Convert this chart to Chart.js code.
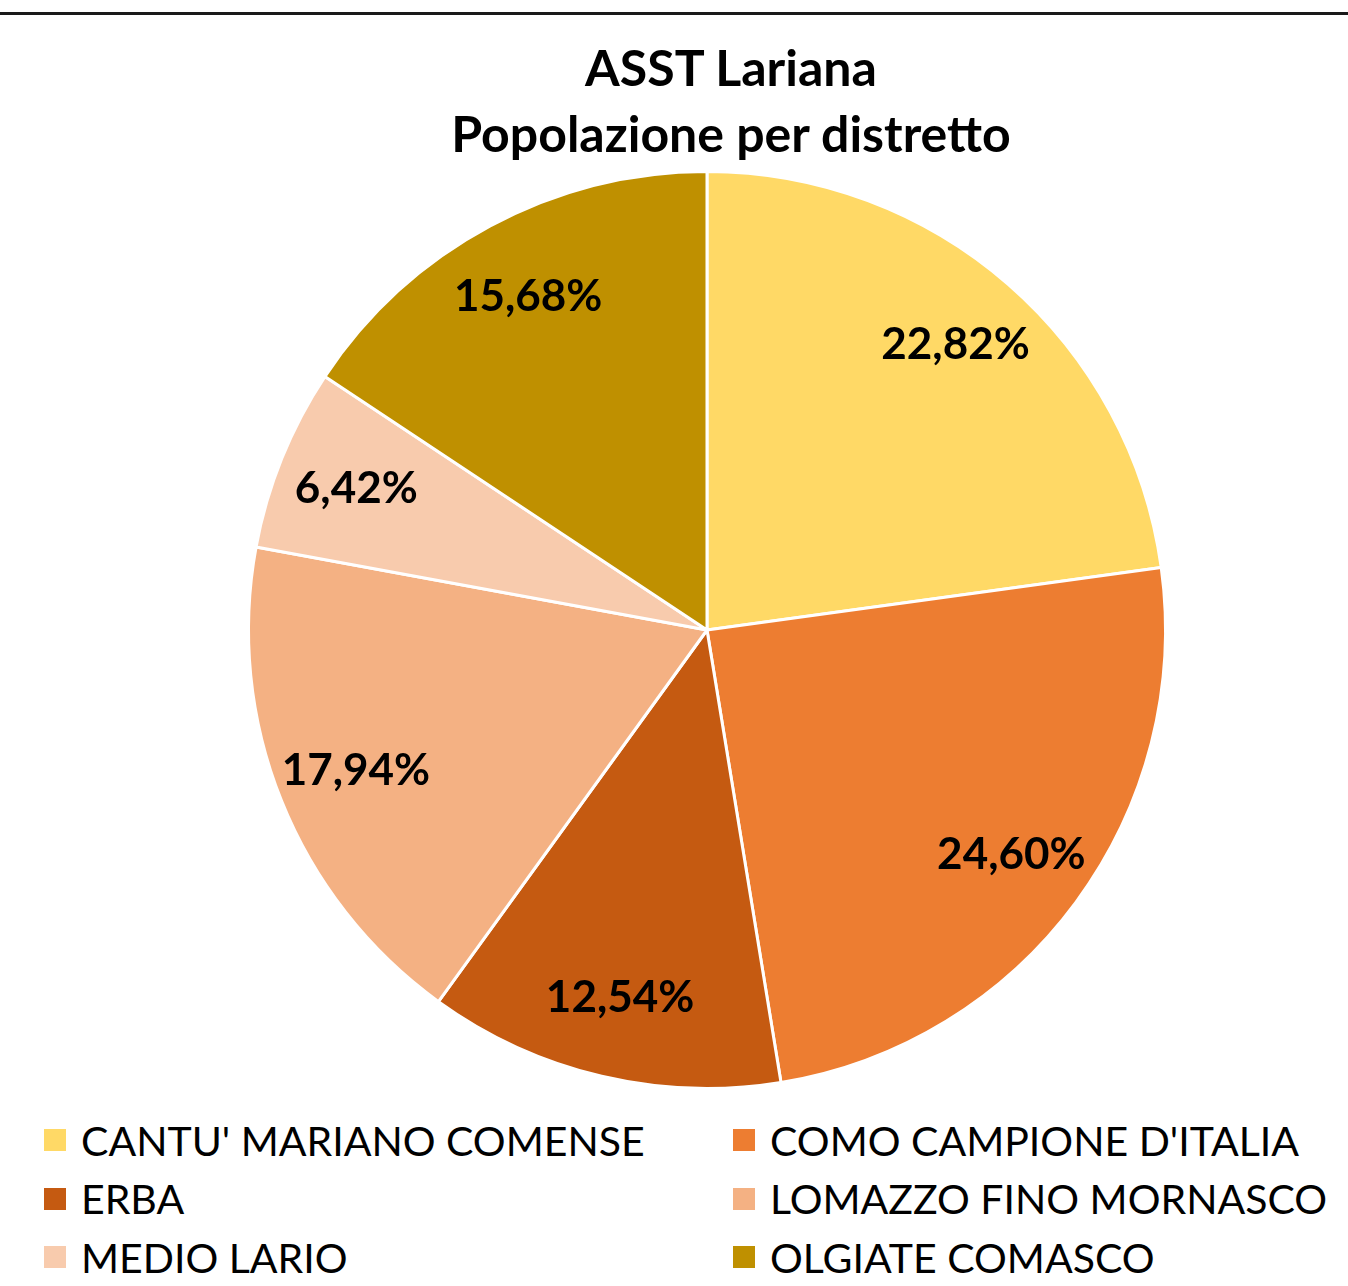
<!DOCTYPE html>
<html lang="it">
<head>
    <meta charset="UTF-8">
    <title>ASST Lariana</title>
    <script src="https://cdn.jsdelivr.net/npm/chart.js"></script>
    <style>
        body {
            margin: 0;
            background-color: #fff;
            font-family: Lato, sans-serif;
        }

        #wrap {
            position: relative;
            width: 1348px;
            height: 1286px;
            overflow: hidden;
        }

        .topline {
            position: absolute;
            left: 0;
            top: 12px;
            width: 1348px;
            height: 3px;
            background-color: #1a1a1a;
        }

        .title {
            position: absolute;
            left: 331px;
            width: 800px;
            top: 34px;
            text-align: center;
            font-weight: bold;
            font-size: 50px;
            line-height: 66px;
            color: #000;
        }

        .chart-container {
            position: absolute;
            left: 0;
            top: 0;
            width: 1348px;
            height: 1100px;
        }

        .legend {
            position: absolute;
            left: 44px;
            top: 1111px;
            display: grid;
            grid-template-columns: 689px 600px;
            grid-auto-rows: 58.5px;
            font-size: 41px;
            color: #000;
        }

        .legend div {
            display: flex;
            align-items: center;
            white-space: nowrap;
        }

        .legend span {
            display: inline-block;
            width: 22px;
            height: 22px;
            margin-right: 15px;
        }
    </style>
</head>
<body>
<div id="wrap">
    <div class="topline"></div>
    <div class="chart-container">
        <canvas id="pieChart"></canvas>
    </div>
    <div class="title" id="title"></div>
    <div class="legend" id="legend"></div>
</div>

<script>
    const titleLines = ['ASST Lariana', 'Popolazione per distretto'];
    const districts = ["CANTU' MARIANO COMENSE", "COMO CAMPIONE D'ITALIA", 'ERBA', 'LOMAZZO FINO MORNASCO', 'MEDIO LARIO', 'OLGIATE COMASCO'];
    const shares = [22.82, 24.60, 12.54, 17.94, 6.42, 15.68];
    const colors = ['#FFD966', '#ED7D31', '#C55A11', '#F4B183', '#F8CBAD', '#BF9000'];

    document.getElementById('title').innerHTML = titleLines.join('<br>');

    // legend in two columns, same order as the slices
    const legendEl = document.getElementById('legend');
    districts.forEach((name, i) => {
        const item = document.createElement('div');
        const box = document.createElement('span');
        box.style.backgroundColor = colors[i];
        item.appendChild(box);
        item.appendChild(document.createTextNode(name));
        legendEl.appendChild(item);
    });

    // percentages written inside each slice
    const sliceLabels = {
        id: 'sliceLabels',
        afterDatasetsDraw(chart) {
            const ctx = chart.ctx;
            const meta = chart.getDatasetMeta(0);
            ctx.save();
            ctx.font = 'bold 44px Lato';
            ctx.fillStyle = '#000';
            ctx.textAlign = 'center';
            ctx.textBaseline = 'middle';
            meta.data.forEach((arc, i) => {
                const mid = (arc.startAngle + arc.endAngle) / 2;
                const r = arc.outerRadius * 0.825;
                const x = arc.x + Math.cos(mid) * r;
                const y = arc.y + Math.sin(mid) * r;
                ctx.fillText(shares[i].toFixed(2).replace('.', ',') + '%', x, y);
            });
            ctx.restore();
        }
    };

    const pieCtx = document.getElementById('pieChart').getContext('2d');
    const pieChart = new Chart(pieCtx, {
        type: 'pie',
        data: {
            labels: districts,
            datasets: [
                { data: shares, backgroundColor: colors, borderColor: '#fff', borderWidth: 3 },
            ],
        },
        options: {
            responsive: true,
            maintainAspectRatio: false,
            animation: false,
            layout: { padding: { left: 247, right: 181, top: 170, bottom: 10 } },
            plugins: {
                legend: { display: false },
                tooltip: { enabled: false },
            },
        },
        plugins: [sliceLabels],
    });
</script>
</body>
</html>
